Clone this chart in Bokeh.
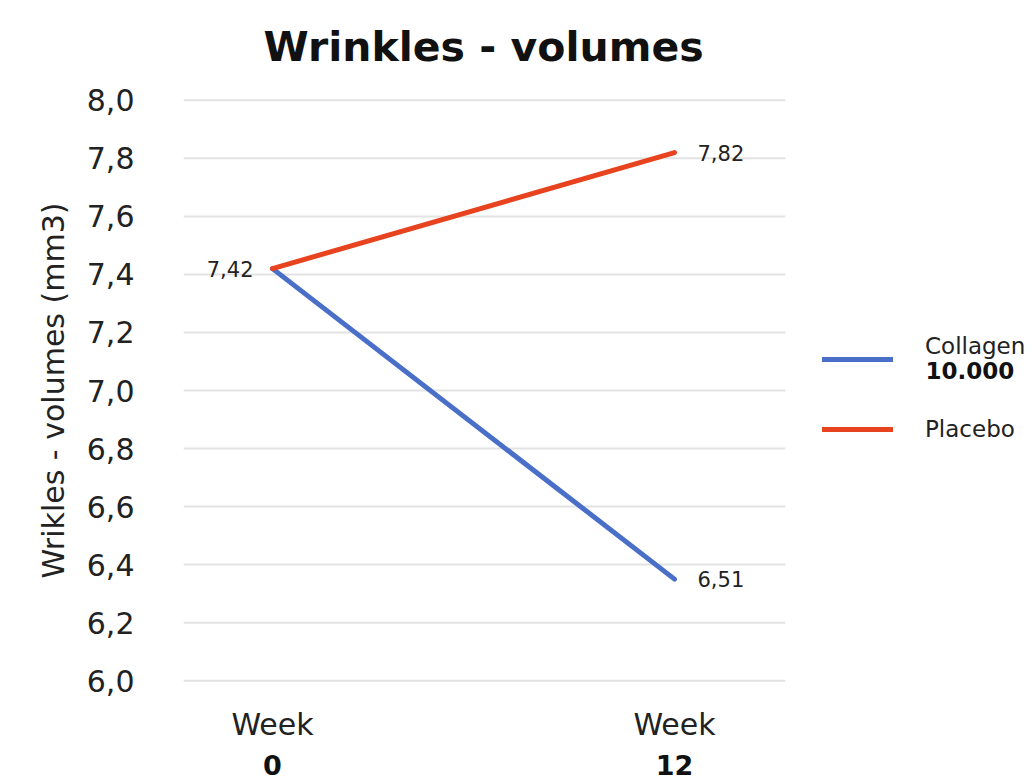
from bokeh.plotting import figure
from bokeh.models import (ColumnDataSource, FixedTicker, LinearAxis, Legend, LegendItem,
                          Label, Range1d)
from bokeh.embed import file_html
from bokeh.resources import INLINE
from bokeh.core.properties import value

# ---- data ----
weeks = [0, 1]
week_top = ["Week", "Week"]
week_num = ["0", "12"]
collagen = [7.42, 6.35]
placebo = [7.42, 7.82]
collagen_labels = ["7,42", "6,51"]
placebo_labels = ["", "7,82"]
series_names = ["Collagen", "10.000", "Placebo"]
y_ticks = [6.0, 6.2, 6.4, 6.6, 6.8, 7.0, 7.2, 7.4, 7.6, 7.8, 8.0]
y_tick_labels = ["6,0", "6,2", "6,4", "6,6", "6,8", "7,0", "7,2", "7,4", "7,6", "7,8", "8,0"]

FONT = "DejaVu Sans"
BLUE = "#4a6fc8"
RED = "#e8431f"
TXT = "#222222"

X0, X1 = -0.2214, 1.8856   # frame extends to the right to host the legend
GRID_END = 1.276

p = figure(width=1034, height=783, output_backend="svg", toolbar_location=None,
           x_range=Range1d(X0, X1), y_range=Range1d(5.98, 8.02),
           min_border_left=183, min_border_right=4, min_border_top=94, min_border_bottom=97,
           title="Wrinkles - volumes")
p.outline_line_color = None
p.background_fill_color = "white"
p.border_fill_color = "white"

p.title.align = "left"
p.title.offset = 80
p.title.standoff = 44
p.title.vertical_align = "top"
p.title.text_font = FONT
p.title.text_font_size = "41px"
p.title.text_font_style = "bold"
p.title.text_color = "#111111"

# y axis
p.yaxis.ticker = FixedTicker(ticks=y_ticks)
p.yaxis.major_label_overrides = {t: l for t, l in zip(y_ticks, y_tick_labels)}
p.yaxis.axis_line_color = None
p.yaxis.major_tick_line_color = None
p.yaxis.minor_tick_line_color = None
p.yaxis.major_tick_out = 0
p.yaxis.major_tick_in = 0
p.yaxis.major_label_text_font = FONT
p.yaxis.major_label_text_font_size = "30px"
p.yaxis.major_label_text_color = TXT
p.yaxis.major_label_standoff = 49
p.yaxis.axis_label = "Wrikles - volumes (mm3)"
p.yaxis.axis_label_text_font = FONT
p.yaxis.axis_label_text_font_size = "30px"
p.yaxis.axis_label_text_font_style = "normal"
p.yaxis.axis_label_text_color = TXT
p.yaxis.axis_label_standoff = 13

# x axes (two stacked: "Week" and bold number)
xa = p.xaxis[0]
xa.ticker = FixedTicker(ticks=weeks)
xa.major_label_overrides = {w: t for w, t in zip(weeks, week_top)}
xb = LinearAxis(ticker=FixedTicker(ticks=weeks),
                major_label_overrides={w: t for w, t in zip(weeks, week_num)})
p.add_layout(xb, "below")
for ax in (xa, xb):
    ax.axis_line_color = None
    ax.major_tick_line_color = None
    ax.minor_tick_line_color = None
    ax.major_tick_out = 0
    ax.major_tick_in = 0
    ax.major_label_text_font = FONT
    ax.major_label_text_color = TXT
xa.major_label_text_font_size = "30px"
xa.major_label_standoff = 20
xb.major_label_text_font_size = "27px"
xb.major_label_standoff = 10
xb.major_label_text_font_style = "bold"
xb.major_label_text_color = "#111111"

# horizontal grid lines only across the chart area
p.xgrid.grid_line_color = None
p.ygrid.grid_line_color = None
p.segment(x0=[X0] * len(y_ticks), y0=y_ticks, x1=[GRID_END] * len(y_ticks), y1=y_ticks,
          line_color="#e3e3e3", line_width=2)

src = ColumnDataSource(dict(x=weeks, c=collagen, pl=placebo,
                            cl=collagen_labels, pll=placebo_labels))
rc = p.line("x", "c", source=src, line_color=BLUE, line_width=5, line_cap="round")
rp = p.line("x", "pl", source=src, line_color=RED, line_width=5, line_cap="round")

# value labels
p.text(x=[weeks[0]], y=[collagen[0]], text=[collagen_labels[0]], x_offset=-19,
       text_align="right", text_baseline="middle", text_font=value(FONT),
       text_font_size="21px", text_color=TXT)
p.text(x=[weeks[1]], y=[collagen[1]], text=[collagen_labels[1]], x_offset=23,
       text_align="left", text_baseline="middle", text_font=value(FONT),
       text_font_size="21px", text_color=TXT)
p.text(x=[weeks[1]], y=[placebo[1]], text=[placebo_labels[1]], x_offset=23,
       text_align="left", text_baseline="middle", text_font=value(FONT),
       text_font_size="21px", text_color=TXT)

legend = Legend(items=[LegendItem(label=series_names[0] + "\n ", renderers=[rc]),
                       LegendItem(label=series_names[2], renderers=[rp])],
                location=(639, 244), orientation="vertical",
                glyph_width=71, glyph_height=10, label_standoff=32, spacing=31,
                padding=0, margin=0, border_line_alpha=0, background_fill_alpha=0,
                label_text_font=FONT, label_text_font_size="23px", label_text_color=TXT)
p.add_layout(legend, "center")

p.add_layout(Label(x=742, y=316, x_units="screen", y_units="screen", text=series_names[1],
                   text_font=FONT, text_font_size="23px", text_font_style="bold",
                   text_color="#111111", text_baseline="middle"))

open("out.html", "w").write(file_html(p, INLINE))
